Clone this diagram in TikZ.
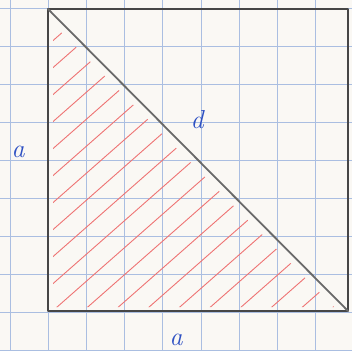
\documentclass[tikz,border=0pt]{standalone}
\definecolor{paper}{RGB}{250,248,244}
\definecolor{gridblue}{RGB}{170,190,225}
\definecolor{pencil}{RGB}{70,70,70}
\definecolor{diag}{RGB}{105,105,105}
\definecolor{hatch}{RGB}{238,115,115}
\definecolor{ink}{RGB}{45,80,195}
\tikzset{
  gridline/.style={gridblue, line width=0.8pt},
  edge/.style={pencil, line width=2.4pt, line join=round},
  diagline/.style={diag, line width=1.8pt, line cap=round},
  hatchline/.style={hatch, line width=0.9pt, line cap=round},
  lbl/.style={text=ink, font=\fontsize{26}{26}\selectfont\itshape, inner sep=0pt}
}
\begin{document}
\begin{tikzpicture}[x=1pt,y=-1pt]
\fill[paper] (0,0) rectangle (352,351);
\useasboundingbox (0,0) rectangle (352,351);
% grid
\foreach \i in {0,...,9} {
  \draw[gridline] ({10+38.2*\i},0) -- ({10+38.2*\i},351);
  \draw[gridline] (0,{8+38*\i}) -- (352,{8+38*\i});
}
% corners
\coordinate (TL) at (48,9);
\coordinate (TR) at (348,9);
\coordinate (BR) at (348,311);
\coordinate (BL) at (48,311);
% hatching
\begin{scope}
\clip (53,24) -- (53,307) -- (334,307) -- cycle;
\foreach \b in {45,72,...,600} {
  \draw[hatchline] (48,\b) -- (360,{\b-0.88*312});
}
\end{scope}
% square and diagonal
\draw[edge] (TL) -- (TR) -- (BR) -- (BL) -- cycle;
\draw[diagline] (TL) -- (BR);
% labels
\node[lbl] (d) at (197,120) {d};
\node[lbl] (a1) at (18,152) {a};
\node[lbl] (a2) at (176,340) {a};
\end{tikzpicture}
\end{document}
